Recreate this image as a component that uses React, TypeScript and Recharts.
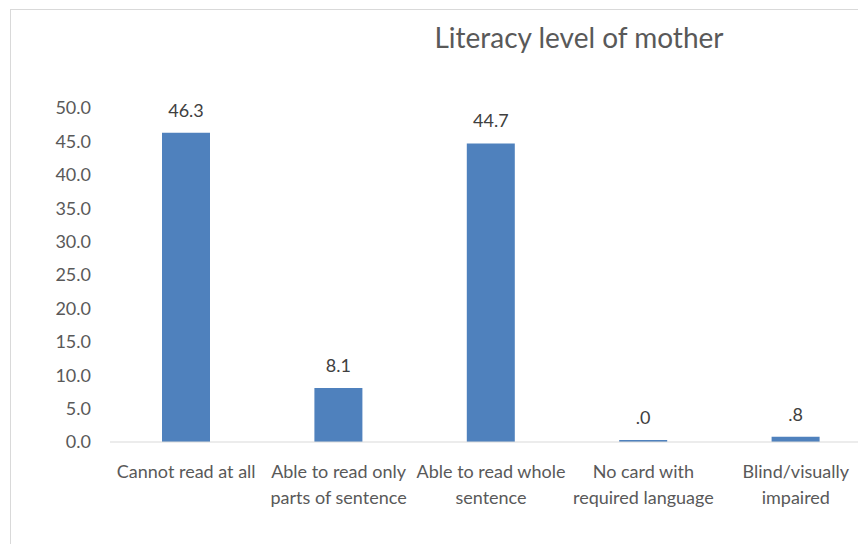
import React from 'react';
import { BarChart, Bar, XAxis, YAxis, LabelList } from 'recharts';

const categories = [
  'Cannot read at all',
  'Able to read only parts of sentence',
  'Able to read whole sentence',
  'No card with required language',
  'Blind/visually impaired',
];
const tickLines = [
  ['Cannot read at all'],
  ['Able to read only', 'parts of sentence'],
  ['Able to read whole', 'sentence'],
  ['No card with', 'required language'],
  ['Blind/visually', 'impaired'],
];
const percents = [46.3, 8.1, 44.7, 0.04, 0.8];
const yTicks = [0, 5, 10, 15, 20, 25, 30, 35, 40, 45, 50];

const data = categories.map((name, i) => ({ name, value: percents[i], idx: i }));

const FONT = "Lato, sans-serif";
const TEXT = '#595959';

const fmtLabel = (v: any) => {
  const s = Number(v).toFixed(1);
  return s.startsWith('0') ? s.slice(1) : s;
};

const CategoryTick = ({ x, y, payload }: any) => {
  const lines = tickLines[payload.index] || [payload.value];
  return (
    <text x={x} y={y} textAnchor="middle" fill={TEXT} fontFamily={FONT} fontSize={18}>
      {lines.map((l, i) => (
        <tspan key={i} x={x} y={y + 28 + i * 26}>
          {l}
        </tspan>
      ))}
    </text>
  );
};

const App: React.FC = () => {
  return (
    <div style={{ position: 'fixed', left: 0, top: 0, width: 858, height: 544, overflow: 'hidden', background: '#fff' }}>
      <div
        style={{
          position: 'absolute',
          left: 10,
          top: 9,
          width: 900,
          height: 560,
          border: '1px solid #d9d9d9',
        }}
      />
      <div
        style={{
          position: 'absolute',
          left: 379,
          width: 400,
          top: 20,
          textAlign: 'center',
          fontFamily: FONT,
          fontSize: 28,
          color: TEXT,
        }}
      >
        Literacy level of mother
      </div>
      <div style={{ position: 'absolute', left: 0, top: 0 }}>
        <BarChart
          width={872}
          height={544}
          data={data}
          margin={{ top: 108, right: 0, left: 0, bottom: 0 }}
          barCategoryGap="34%"
        >
          <XAxis
            dataKey="name"
            height={102}
            axisLine={{ stroke: '#d9d9d9' }}
            tickLine={false}
            interval={0}
            tick={<CategoryTick />}
          />
          <YAxis
            width={110}
            domain={[0, 50]}
            ticks={yTicks}
            axisLine={false}
            tickLine={false}
            tickSize={0}
            tickMargin={19}
            tickFormatter={(v: number) => v.toFixed(1)}
            tick={{ fontSize: 18, fill: TEXT, fontFamily: FONT }}
          />
          <Bar dataKey="value" fill="#4f81bd" barSize={48} minPointSize={2} isAnimationActive={false}>
            <LabelList
              dataKey="value"
              position="top"
              offset={16}
              formatter={fmtLabel}
              style={{ fontSize: 18, fill: '#404040', fontFamily: FONT }}
            />
          </Bar>
        </BarChart>
      </div>
    </div>
  );
};

export default App;
